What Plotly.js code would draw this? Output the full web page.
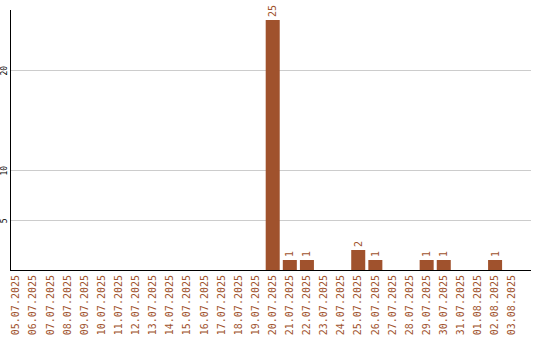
<!DOCTYPE html>
<html>
<head>
<meta charset="utf-8">
<script src="https://cdn.plot.ly/plotly-3.0.1.min.js"></script>
<style>
  html, body { margin: 0; padding: 0; background: #fff; }
  #chart { width: 540px; height: 340px; }
</style>
</head>
<body>
<div id="chart"></div>
<script>
// Daily counts, 05.07.2025 – 03.08.2025
const days = [
  "05.07.2025", "06.07.2025", "07.07.2025", "08.07.2025", "09.07.2025",
  "10.07.2025", "11.07.2025", "12.07.2025", "13.07.2025", "14.07.2025",
  "15.07.2025", "16.07.2025", "17.07.2025", "18.07.2025", "19.07.2025",
  "20.07.2025", "21.07.2025", "22.07.2025", "23.07.2025", "24.07.2025",
  "25.07.2025", "26.07.2025", "27.07.2025", "28.07.2025", "29.07.2025",
  "30.07.2025", "31.07.2025", "01.08.2025", "02.08.2025", "03.08.2025"
];
const counts = [
  0, 0, 0, 0, 0,
  0, 0, 0, 0, 0,
  0, 0, 0, 0, 0,
  25, 1, 1, 0, 0,
  2, 1, 0, 0, 1,
  1, 0, 0, 1, 0
];
const yTicks = [5, 10, 20];

const barColor = "#a0522d";
const mono = "DejaVu Sans Mono, monospace";

const trace = {
  type: "bar",
  x: days,
  y: counts,
  marker: { color: barColor, line: { width: 0 } },
  text: counts.map(v => v > 0 ? String(v) : ""),
  textposition: "outside",
  textangle: -90,
  textfont: { family: mono, size: 10, color: barColor },
  cliponaxis: false,
  hoverinfo: "x+y"
};

const layout = {
  width: 540,
  height: 340,
  margin: { l: 11, r: 9, t: 10, b: 70, pad: 0 },
  paper_bgcolor: "#fff",
  plot_bgcolor: "#fff",
  showlegend: false,
  bargap: 0.18,
  xaxis: {
    type: "category",
    range: [-0.3, 30.1],
    showline: true,
    linecolor: "#000",
    linewidth: 1,
    showgrid: false,
    zeroline: false,
    ticks: "",
    tickangle: -90,
    tickfont: { family: mono, size: 10, color: barColor },
    automargin: false
  },
  yaxis: {
    range: [0, 26],
    tickvals: yTicks,
    ticktext: yTicks.map(String),
    showline: true,
    linecolor: "#000",
    linewidth: 1,
    showgrid: true,
    gridcolor: "#cccccc",
    gridwidth: 1,
    zeroline: false,
    ticks: "",
    tickangle: -90,
    ticklabelstandoff: 0,
    ticklabelshift: 2,
    tickfont: { family: mono, size: 8, color: "#000" },
    automargin: false
  }
};

Plotly.newPlot("chart", [trace], layout, { staticPlot: true, displayModeBar: false });
</script>
</body>
</html>
